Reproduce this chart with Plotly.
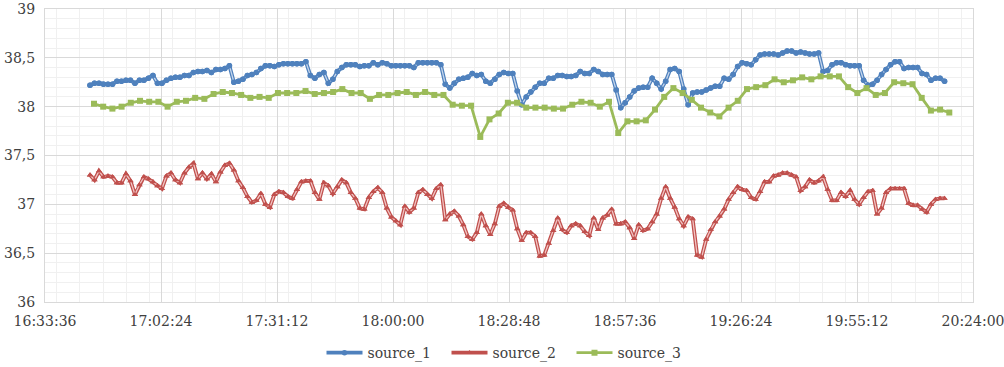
import pandas as pd
import plotly.graph_objects as go

# ---------------- data ----------------
source_1 = [
    38.22, 38.24, 38.24, 38.23, 38.23, 38.23, 38.26, 38.26, 38.27, 38.27,
    38.24, 38.27, 38.27, 38.29, 38.32, 38.24, 38.24, 38.27, 38.29, 38.30,
    38.30, 38.32, 38.32, 38.35, 38.36, 38.36, 38.37, 38.35, 38.38, 38.38,
    38.39, 38.42, 38.25, 38.26, 38.28, 38.32, 38.33, 38.35, 38.39, 38.42,
    38.42, 38.41, 38.43, 38.44, 38.44, 38.44, 38.44, 38.44, 38.46, 38.32,
    38.29, 38.33, 38.35, 38.24, 38.28, 38.36, 38.40, 38.43, 38.43, 38.43,
    38.41, 38.42, 38.42, 38.45, 38.43, 38.45, 38.44, 38.42, 38.42, 38.42,
    38.42, 38.42, 38.40, 38.45, 38.45, 38.45, 38.45, 38.45, 38.43, 38.23,
    38.19, 38.24, 38.28, 38.29, 38.30, 38.34, 38.32, 38.33, 38.26, 38.24,
    38.28, 38.33, 38.35, 38.34, 38.34, 38.16, 38.02, 38.10, 38.15, 38.20,
    38.24, 38.24, 38.29, 38.29, 38.32, 38.32, 38.31, 38.31, 38.32, 38.36,
    38.34, 38.34, 38.38, 38.36, 38.33, 38.33, 38.33, 38.17, 37.99, 38.04,
    38.10, 38.16, 38.19, 38.20, 38.20, 38.29, 38.24, 38.18, 38.26, 38.38,
    38.39, 38.36, 38.18, 38.02, 38.14, 38.15, 38.15, 38.17, 38.19, 38.21,
    38.21, 38.29, 38.28, 38.33, 38.41, 38.45, 38.44, 38.43, 38.48, 38.53,
    38.54, 38.54, 38.54, 38.53, 38.55, 38.57, 38.57, 38.55, 38.56, 38.55,
    38.54, 38.54, 38.55, 38.36, 38.37, 38.43, 38.45, 38.45, 38.43, 38.42,
    38.42, 38.42, 38.27, 38.22, 38.23, 38.27, 38.33, 38.38, 38.43, 38.46,
    38.46, 38.39, 38.40, 38.40, 38.40, 38.34, 38.33, 38.27, 38.29, 38.29,
    38.26,
]
source_2 = [
    37.30, 37.25, 37.34, 37.28, 37.29, 37.28, 37.22, 37.22, 37.31, 37.24,
    37.10, 37.20, 37.28, 37.26, 37.23, 37.19, 37.16, 37.29, 37.32, 37.25,
    37.22, 37.32, 37.38, 37.42, 37.26, 37.32, 37.26, 37.31, 37.23, 37.33,
    37.40, 37.42, 37.35, 37.24, 37.17, 37.08, 37.02, 37.04, 37.11, 37.00,
    36.97, 37.10, 37.13, 37.12, 37.08, 37.06, 37.15, 37.23, 37.24, 37.24,
    37.12, 37.05, 37.22, 37.19, 37.11, 37.18, 37.25, 37.22, 37.12, 37.06,
    36.96, 36.95, 37.07, 37.13, 37.17, 37.12, 36.96, 36.87, 36.83, 36.79,
    36.98, 36.92, 36.96, 37.12, 37.15, 37.10, 37.06, 37.16, 37.20, 36.84,
    36.90, 36.93, 36.88, 36.79, 36.67, 36.64, 36.71, 36.90, 36.78, 36.69,
    36.80, 36.98, 37.01, 36.97, 36.94, 36.75, 36.63, 36.71, 36.71, 36.67,
    36.47, 36.48, 36.60, 36.73, 36.86, 36.74, 36.71, 36.78, 36.80, 36.78,
    36.72, 36.68, 36.86, 36.74, 36.86, 36.89, 36.95, 36.80, 36.80, 36.82,
    36.76, 36.65, 36.79, 36.73, 36.75, 36.82, 36.90, 37.06, 37.18, 37.06,
    36.97, 36.85, 36.78, 36.87, 36.85, 36.48, 36.46, 36.64, 36.74, 36.82,
    36.88, 36.95, 37.05, 37.12, 37.18, 37.15, 37.14, 37.07, 37.05, 37.13,
    37.23, 37.23, 37.29, 37.30, 37.32, 37.32, 37.30, 37.28, 37.14, 37.18,
    37.25, 37.22, 37.24, 37.28, 37.15, 37.04, 37.04, 37.12, 37.08, 37.14,
    37.05, 37.00, 37.07, 37.13, 37.14, 36.90, 36.96, 37.12, 37.16, 37.16,
    37.16, 37.16, 37.01, 36.99, 36.99, 36.95, 36.92, 37.00, 37.05, 37.06,
    37.06,
]
source_3 = [
    38.03, 38.00, 37.98, 38.00, 38.04, 38.06, 38.05, 38.05, 38.00, 38.05,
    38.06, 38.09, 38.08, 38.13, 38.15, 38.14, 38.12, 38.09, 38.10, 38.09,
    38.14, 38.14, 38.14, 38.16, 38.13, 38.14, 38.15, 38.18, 38.14, 38.14,
    38.08, 38.12, 38.12, 38.14, 38.15, 38.12, 38.15, 38.12, 38.12, 38.02,
    38.01, 38.01, 37.69, 37.87, 37.93, 38.04, 38.04, 37.99, 37.99, 37.99,
    37.98, 37.98, 38.02, 38.05, 38.04, 38.00, 38.05, 37.73, 37.85, 37.85,
    37.86, 37.97, 38.10, 38.19, 38.14, 38.07, 37.99, 37.94, 37.90, 37.99,
    38.06, 38.18, 38.20, 38.22, 38.28, 38.25, 38.27, 38.30, 38.28, 38.31,
    38.31, 38.31, 38.20, 38.14, 38.19, 38.12, 38.14, 38.25, 38.24, 38.23,
    38.09, 37.96, 37.97, 37.94,
]
t12_start, t12_step = "2020-01-01 16:44:46", "67s"
t3_start, t3_step = "2020-01-01 16:45:46", "137s"
x_range = ["2020-01-01 16:33:36", "2020-01-01 20:24:00"]
x_tick0 = "2020-01-01 16:33:36"
names = ["source_1", "source_2", "source_3"]

t12 = pd.date_range(t12_start, periods=len(source_1), freq=t12_step)
t3 = pd.date_range(t3_start, periods=len(source_3), freq=t3_step)

# ---------------- styles ----------------
blue_dark, blue_light = "#4F81BD", "#C6D6EC"
red_dark, red_light = "#C0504D", "#F2C4C3"
green = "#9BBB59"
FONT = "DejaVu Serif"
TXT = "#404040"

fig = go.Figure()

def double_line(x, y, name, dark, light, symbol, msize):
    fig.add_trace(go.Scatter(x=x, y=y, name=name, mode="lines+markers",
                             line=dict(color=dark, width=3.8),
                             marker=dict(symbol=symbol, size=msize, color=dark),
                             legendgroup=name))
    fig.add_trace(go.Scatter(x=x, y=y, mode="lines", showlegend=False,
                             line=dict(color=light, width=1.3),
                             hoverinfo="skip", legendgroup=name))
    fig.add_trace(go.Scatter(x=x, y=y, mode="markers", showlegend=False,
                             marker=dict(symbol=symbol, size=msize, color=dark),
                             hoverinfo="skip", legendgroup=name))

double_line(t12, source_1, names[0], blue_dark, blue_light, "circle", 5.5)
double_line(t12, source_2, names[1], red_dark, red_light, "triangle-up", 5.5)
fig.add_trace(go.Scatter(x=t3, y=source_3, name=names[2], mode="lines+markers",
                         line=dict(color=green, width=2.8),
                         marker=dict(symbol="square", size=6, color=green)))

fig.update_layout(
    width=1004, height=367,
    margin=dict(l=45, r=31, t=9, b=65, autoexpand=False),
    paper_bgcolor="white", plot_bgcolor="white",
    separators=", ",
    font=dict(family=FONT, size=14, color=TXT),
    showlegend=True,
    legend=dict(orientation="h", x=0.5, xanchor="center",
                yref="container", y=0.038, yanchor="middle",
                font=dict(family=FONT, size=14, color=TXT),
                itemwidth=36, entrywidth=74, entrywidthmode="pixels",
                traceorder="normal"),
)
fig.update_xaxes(
    type="date", range=x_range, tick0=x_tick0, dtick=1728000,
    tickformat="%H:%M:%S", showgrid=True, gridcolor="#D9D9D9", gridwidth=1,
    showline=True, linecolor="#D9D9D9", mirror=True, ticks="", zeroline=False,
    automargin=False, ticklabelstandoff=6, ticklabeloverflow="allow",
    minor=dict(dtick=345600, showgrid=True, gridcolor="#F0F0F0", gridwidth=1),
    tickfont=dict(family=FONT, size=14, color=TXT),
)
fig.update_yaxes(
    range=[36, 39], dtick=0.5, tick0=36, showgrid=True, gridcolor="#D9D9D9",
    gridwidth=1, showline=True, linecolor="#D9D9D9", mirror=True, ticks="",
    zeroline=False, automargin=False, ticklabelstandoff=6,
    ticklabeloverflow="allow",
    minor=dict(dtick=0.1, showgrid=True, gridcolor="#F0F0F0", gridwidth=1),
    tickfont=dict(family=FONT, size=14, color=TXT),
)

fig.write_html("out.html", config={"displayModeBar": False},
               post_script="document.body.style.margin='0px';")
